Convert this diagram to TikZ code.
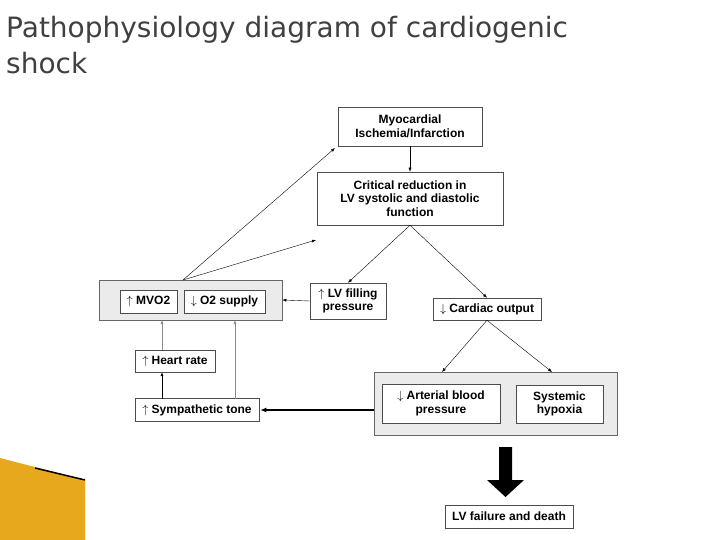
\documentclass[tikz,border=0pt]{standalone}
\usepackage{fontspec}
\setmainfont{Liberation Sans}
\newfontfamily\titlefont{DejaVu Sans}
\usetikzlibrary{arrows.meta}
\begin{document}
\begin{tikzpicture}[x=1pt,y=-1pt,
  bx/.style={draw=black!70,fill=white,line width=0.5pt,align=center,font=\fontsize{12}{13.5}\selectfont\bfseries,inner sep=0pt},
  outer/.style={draw=black!60,fill=black!8,line width=0.5pt},
  ar/.style={-{Latex[length=4pt,width=3pt]},line width=0.4pt},
  gar/.style={ar,draw=black!45}]
\useasboundingbox (0,0) rectangle (720,540);
\node[anchor=north west,font=\titlefont\fontsize{28}{36}\selectfont,text=black!75,align=left,inner sep=0pt] (t) at (6,16) {Pathophysiology diagram of cardiogenic\\shock};
\definecolor{gold}{RGB}{232,168,30}
\fill[gold] (0,458) -- (85,480) -- (85,540) -- (0,540) -- cycle;
\draw[line width=1.5pt] (35,468) -- (85,480);
% boxes
\node[bx,minimum width=144,minimum height=39] (myo) at (410,126.5) {Myocardial\\Ischemia/Infarction};
\node[bx,minimum width=186,minimum height=53] (crit) at (410,198.5) {Critical reduction in\\LV systolic and diastolic\\function};
\node[outer,minimum width=183,minimum height=40,inner sep=0pt] (ol) at (190.5,300) {};
\node[bx,minimum width=57,minimum height=23] (mvo) at (148.5,301.5) {$\uparrow$ MVO2};
\node[bx,minimum width=81,minimum height=23] (o2) at (224.5,301.5) {$\downarrow$ O2 supply};
\node[bx,minimum width=76,minimum height=36] (lvf) at (348,301) {$\uparrow$ LV filling\\pressure};
\node[bx,minimum width=108,minimum height=22] (co) at (487,309) {$\downarrow$ Cardiac output};
\node[bx,minimum width=80,minimum height=22] (hr) at (175,361) {$\uparrow$ Heart rate};
\node[bx,minimum width=124,minimum height=23] (st) at (197,410) {$\uparrow$ Sympathetic tone};
\node[outer,minimum width=243,minimum height=63,inner sep=0pt] (ob) at (495.5,403.5) {};
\node[bx,minimum width=118,minimum height=39] (abp) at (441,403.5) {$\downarrow$ Arterial blood\\pressure};
\node[bx,minimum width=87,minimum height=38] (sh) at (559.5,404) {Systemic\\hypoxia};
\node[bx,minimum width=128,minimum height=23] (lv) at (509,516.5) {LV failure and death};
% arrows
\draw[ar] (myo.south) -- (crit.north);
\draw[ar] (crit.south) -- (lvf.north);
\draw[ar] (crit.south) -- (co.north);
\draw[ar] (183,280) -- (335,148);
\draw[ar] (183,280) -- (316,240);
\draw[ar] (lvf.west) -- (ol.east);
\draw[ar] (co.south) -- (442,372);
\draw[ar] (co.south) -- (552,372);
\draw[gar] (162,350) -- (162,320);
\draw[gar] (235,399) -- (235,320);
\draw[ar,line width=0.9pt] (162,398.5) -- (162,372);
\draw[-{Latex[length=6pt,width=5pt]},line width=1.2pt] (374,410) -- ([xshift=1pt]st.east);
\fill (499,447) -- (512,447) -- (512,480) -- (524,480) -- (505.5,497) -- (487,480) -- (499,480) -- cycle;
\end{tikzpicture}
\end{document}
